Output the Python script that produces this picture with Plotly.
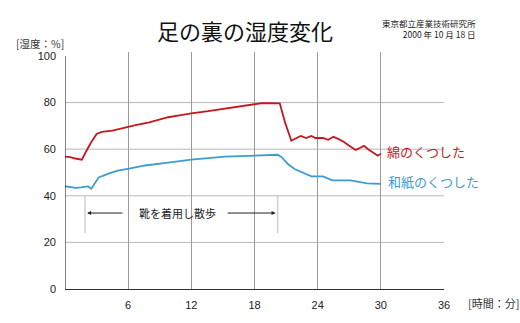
import plotly.graph_objects as go

# ---- data ----
cotton_t = [0, 0.5, 1.0, 1.6, 2.0, 2.5, 3.0, 3.5, 4.5, 5.8, 6.7, 8.0, 9.8, 11.0, 12.0, 13.6,
            15.0, 16.4, 17.5, 18.6, 19.5, 20.4, 20.9, 21.5, 22.0, 22.4, 22.9, 23.4, 23.8,
            24.5, 25.0, 25.5, 26.0, 26.5, 27.0, 27.6, 28.0, 28.4, 28.8, 29.2, 29.7, 30.0]
cotton_v = [56.8, 56.6, 56.0, 55.5, 59.0, 63.1, 66.5, 67.4, 68.0, 69.5, 70.3, 71.5, 73.7, 74.6,
            75.4, 76.3, 77.3, 78.4, 79.0, 79.7, 79.8, 79.7, 71.5, 63.6, 64.8, 65.7, 64.8, 65.7,
            64.8, 64.8, 64.0, 65.3, 64.3, 63.1, 61.5, 59.7, 60.5, 61.4, 60.0, 58.9, 57.2, 58.0]

washi_t = [0, 0.5, 1.0, 1.5, 2.0, 2.2, 2.5, 2.8, 3.2, 4.2, 5.0, 6.1, 7.6, 9.8, 12.0, 15.2,
           17.4, 19.0, 20.2, 20.6, 21.2, 21.8, 22.5, 23.4, 24.5, 25.4, 26.0, 27.1, 28.7, 29.7, 30.0]
washi_v = [44.1, 43.6, 43.4, 43.6, 44.0, 44.0, 43.0, 45.0, 47.9, 49.6, 50.8, 51.7, 53.0, 54.2,
           55.5, 56.8, 57.2, 57.4, 57.6, 56.5, 53.5, 51.5, 50.0, 48.3, 48.3, 46.6, 46.6, 46.6,
           45.3, 44.9, 45.1]

x_ticks = [6, 12, 18, 24, 30, 36]
y_ticks = [0, 20, 40, 60, 80, 100]

walk_start, walk_end = 1.9, 20.2
arrow_y = 32.6

RED = "#c8161d"
BLUE = "#3d9ccf"
JP = "Noto Sans CJK JP"
LAT = "Liberation Sans"

fig = go.Figure()
fig.add_trace(go.Scatter(x=cotton_t, y=cotton_v, mode="lines",
                         line=dict(color=RED, width=1.8), hoverinfo="skip"))
fig.add_trace(go.Scatter(x=washi_t, y=washi_v, mode="lines",
                         line=dict(color=BLUE, width=1.8), hoverinfo="skip"))

# walking period markers
for xv in (walk_start, walk_end):
    fig.add_shape(type="line", x0=xv, x1=xv, y0=24, y1=40, xref="x", yref="y",
                  line=dict(color="#d0d0d0", width=1.5), layer="below")
# y-axis line up to 100
fig.add_shape(type="line", x0=0, x1=0, y0=0, y1=100, xref="x", yref="y",
              line=dict(color="#333333", width=1.2))

ann = []
ann.append(dict(x=walk_start + 0.2, y=arrow_y, ax=5.6, ay=arrow_y, xref="x", yref="y",
                axref="x", ayref="y", text="", showarrow=True, arrowhead=2, arrowsize=0.8,
                arrowwidth=1, arrowcolor="#222222"))
ann.append(dict(x=walk_end - 0.2, y=arrow_y, ax=15.3, ay=arrow_y, xref="x", yref="y",
                axref="x", ayref="y", text="", showarrow=True, arrowhead=2, arrowsize=0.8,
                arrowwidth=1, arrowcolor="#222222"))
ann.append(dict(x=10.7, y=arrow_y, xref="x", yref="y", text="靴を着用し散歩", showarrow=False,
                xanchor="center", yanchor="middle",
                font=dict(family=JP, size=11, color="#222222")))
ann.append(dict(x=30.35, y=58.9, xref="x", yref="y", text="綿のくつした", showarrow=False,
                xanchor="left", yanchor="middle", font=dict(family=JP, size=13, color=RED)))
ann.append(dict(x=30.5, y=46.2, xref="x", yref="y", text="和紙のくつした", showarrow=False,
                xanchor="left", yanchor="middle", font=dict(family=JP, size=13, color=BLUE)))
# title and notes (paper coords: plot area x 65..444, y 52..292 px)
ann.append(dict(x=0.475, y=1.092, xref="paper", yref="paper", text="足の裏の湿度変化",
                showarrow=False, xanchor="center", yanchor="middle",
                font=dict(family=JP, size=22, color="#111111")))
ann.append(dict(x=1.09, y=1.0975, xref="paper", yref="paper",
                text="東京都立産業技術研究所<br>2000 年 10 月 18 日",
                showarrow=False, xanchor="right", yanchor="middle", align="right",
                font=dict(family=JP, size=8.5, color="#222222")))
ann.append(dict(x=-0.135, y=1.035, xref="paper", yref="paper", text="[湿度：%]",
                showarrow=False, xanchor="left", yanchor="middle",
                font=dict(family=JP, size=10.5, color="#333333")))
ann.append(dict(x=1.058, y=-0.058, xref="paper", yref="paper", text="[時間：分]",
                showarrow=False, xanchor="left", yanchor="middle",
                font=dict(family=JP, size=11, color="#333333")))

fig.update_layout(
    width=520, height=323,
    margin=dict(l=65, r=76, t=52, b=31),
    paper_bgcolor="white", plot_bgcolor="white",
    showlegend=False,
    annotations=ann,
    xaxis=dict(range=[0, 36], tickvals=x_ticks, ticktext=[str(v) for v in x_ticks],
               showgrid=True, gridcolor="#9a9a9a", gridwidth=1, zeroline=False,
               showline=True, linecolor="#333333", linewidth=1.2, ticks="",
               ticklabelstandoff=6, tickfont=dict(family=LAT, size=11, color="#222222"),
               fixedrange=True),
    yaxis=dict(range=[0, 101.7], tickvals=y_ticks, ticktext=[str(v) for v in y_ticks],
               showgrid=False, zeroline=False, showline=False, ticks="",
               ticklabelstandoff=8, tickfont=dict(family=LAT, size=11, color="#222222"),
               fixedrange=True),
)

# horizontal gridlines (20..80)
for yv in [20, 40, 60, 80]:
    fig.add_shape(type="line", x0=0, x1=36, y0=yv, y1=yv, xref="x", yref="y",
                  line=dict(color="#b8b8b8", width=1), layer="below")

fig.write_html("out.html")
